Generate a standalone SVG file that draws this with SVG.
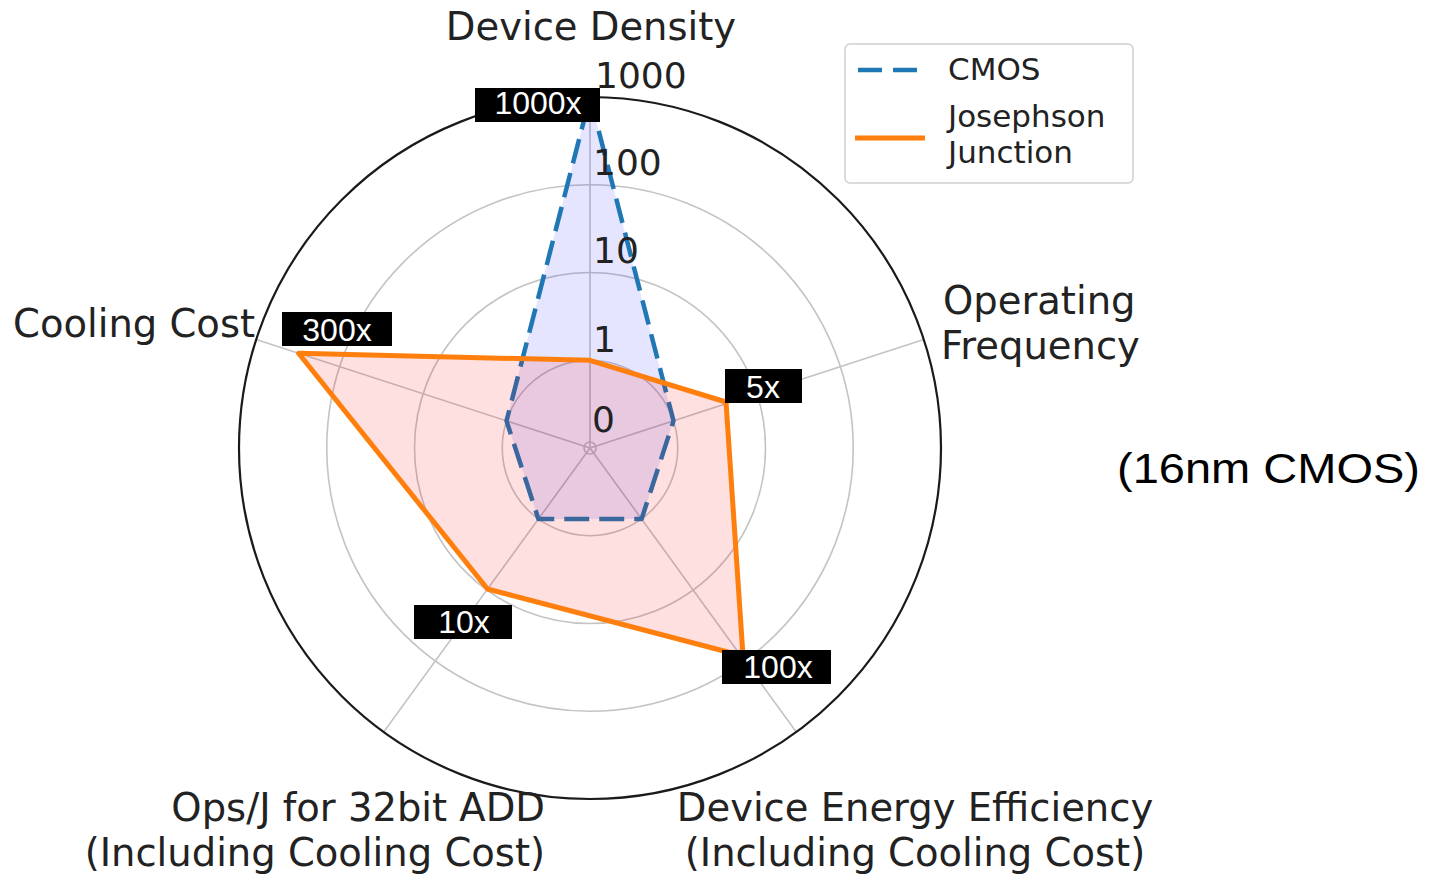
<svg xmlns="http://www.w3.org/2000/svg" width="1435" height="876" viewBox="0 0 1435 876">
<style>
.lbl{font-family:"DejaVu Sans",sans-serif;font-size:38.5px;fill:#222}
.tick{font-family:"DejaVu Sans",sans-serif;font-size:36px;fill:#222}
.leg{font-family:"DejaVu Sans",sans-serif;font-size:31px;fill:#222}
.box{fill:#000}
.boxt{font-family:"Liberation Sans",Arial,sans-serif;font-size:32px;fill:#fff;text-anchor:middle}
.ring{fill:none;stroke:#c4c4c4;stroke-width:1.6}
.spoke{stroke:#c4c4c4;stroke-width:1.6}
</style>
<rect width="1435" height="876" fill="#fff"/>
<g id="grid">
<circle class="ring" cx="590" cy="448" r="87.75"/>
<circle class="ring" cx="590" cy="448" r="175.5"/>
<circle class="ring" cx="590" cy="448" r="263.25"/>
<circle class="ring" cx="590" cy="448" r="6"/>
<line class="spoke" x1="590" y1="448" x2="590" y2="97"/>
<line class="spoke" x1="590" y1="448" x2="923.8" y2="339.5"/>
<line class="spoke" x1="590" y1="448" x2="796.3" y2="732"/>
<line class="spoke" x1="590" y1="448" x2="383.7" y2="732"/>
<line class="spoke" x1="590" y1="448" x2="256.2" y2="339.5"/>
<circle cx="590" cy="448" r="351" fill="none" stroke="#1a1a1a" stroke-width="2.2"/>
</g>
<g id="cmos">
<polygon points="590,97 673.5,420.9 641.6,519 538.4,519 506.5,420.9" fill="#0000ff" fill-opacity="0.1" stroke="none"/>
<polygon points="590,97 673.5,420.9 641.6,519 538.4,519 506.5,420.9" fill="none" stroke="#1f77b4" stroke-width="4.5" stroke-dasharray="25,10" stroke-linejoin="round"/>
</g>
<g id="jj">
<polygon points="590,360.3 726,402 743,656 487.5,589 298.6,353.3" fill="#ff0000" fill-opacity="0.12" stroke="none"/>
<polygon points="590,360.3 726,402 743,656 487.5,589 298.6,353.3" fill="none" stroke="#ff7f0e" stroke-width="5" stroke-linejoin="round"/>
</g>
<g id="ticks">
<text class="tick" x="595" y="88">1000</text>
<text class="tick" x="593" y="175">100</text>
<text class="tick" x="593" y="263">10</text>
<text class="tick" x="593" y="352">1</text>
<text class="tick" x="592" y="432">0</text>
</g>
<g id="axis-labels">
<text class="lbl" x="591" y="40" text-anchor="middle">Device Density</text>
<text class="lbl" x="943" y="314">Operating</text>
<text class="lbl" x="941" y="359">Frequency</text>
<text class="lbl" x="13" y="337">Cooling Cost</text>
<text class="lbl" x="545" y="821" text-anchor="end">Ops/J for 32bit ADD</text>
<text class="lbl" x="545" y="866" text-anchor="end">(Including Cooling Cost)</text>
<text class="lbl" x="915" y="821" text-anchor="middle">Device Energy Efficiency</text>
<text class="lbl" x="915" y="866" text-anchor="middle">(Including Cooling Cost)</text>
</g>
<g id="badges">
<rect class="box" x="475" y="88" width="125" height="34"/>
<text class="boxt" x="538" y="114">1000x</text>
<rect class="box" x="282" y="312" width="110" height="34"/>
<text class="boxt" x="337" y="341">300x</text>
<rect class="box" x="725" y="369" width="77" height="34"/>
<text class="boxt" x="763" y="398">5x</text>
<rect class="box" x="414" y="605" width="98" height="34"/>
<text class="boxt" x="464" y="633">10x</text>
<rect class="box" x="722" y="650" width="109" height="34"/>
<text class="boxt" x="778" y="678">100x</text>
</g>
<g id="legend">
<rect x="845" y="44" width="288" height="139" rx="5" fill="#fff" fill-opacity="0.8" stroke="#d0d0d0" stroke-width="1.5"/>
<line x1="858" y1="70" x2="918" y2="70" stroke="#1f77b4" stroke-width="4.5" stroke-dasharray="24,11"/>
<line x1="855" y1="138" x2="925" y2="138" stroke="#ff7f0e" stroke-width="5"/>
<text class="leg" x="948" y="80">CMOS</text>
<text class="leg" x="948" y="127">Josephson</text>
<text class="leg" x="948" y="163">Junction</text>
</g>
<g id="note">
<text x="1117" y="483" font-family="Liberation Sans, Arial, sans-serif" font-size="42" fill="#000" textLength="303" lengthAdjust="spacingAndGlyphs">(16nm CMOS)</text>
</g>
</svg>
